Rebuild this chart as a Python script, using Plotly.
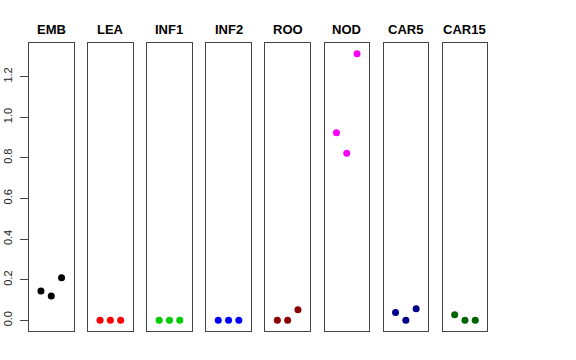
import plotly.graph_objects as go

panels = ["EMB", "LEA", "INF1", "INF2", "ROO", "NOD", "CAR5", "CAR15"]
colors = ["#000000", "#FF0000", "#00CD00", "#0000FF", "#8B0000", "#FF00FF", "#00008B", "#006400"]
x_pos = [1, 2, 3]
values = {
    "EMB":   [0.144, 0.120, 0.210],
    "LEA":   [0.0, 0.0, 0.0],
    "INF1":  [0.0, 0.0, 0.0],
    "INF2":  [0.0, 0.0, 0.0],
    "ROO":   [0.0, 0.0, 0.052],
    "NOD":   [0.924, 0.823, 1.313],
    "CAR5":  [0.039, 0.0, 0.057],
    "CAR15": [0.028, 0.0, 0.0],
}
y_ticks = [0.0, 0.2, 0.4, 0.6, 0.8, 1.0, 1.2]

W, H = 576, 360
fig = go.Figure()
layout = dict(
    width=W, height=H, margin=dict(l=0, r=0, t=0, b=0, autoexpand=False),
    paper_bgcolor="white", plot_bgcolor="white", showlegend=False,
    font=dict(family="Liberation Sans, Arial, sans-serif", color="black"),
)
annotations = []
ylo, yhi = (360 - 331) / H, (360 - 43) / H
ymin, ymax = -0.0525, 1.3655
for i, name in enumerate(panels):
    k = "" if i == 0 else str(i + 1)
    left = 29 + 59.1 * i
    right = left + 44.5
    fig.add_trace(go.Scatter(
        x=x_pos, y=values[name], mode="markers",
        marker=dict(color=colors[i], size=7, line=dict(width=0)),
        xaxis="x" + k, yaxis="y" + k, hoverinfo="skip",
    ))
    layout["xaxis" + k] = dict(
        domain=[left / W, right / W], range=[-0.16, 4.16],
        showgrid=False, zeroline=False, showticklabels=False, ticks="",
        showline=True, linecolor="#444", linewidth=1, mirror=True,
        anchor="y" + k, fixedrange=True, automargin=False,
    )
    ya = dict(
        domain=[ylo, yhi], range=[ymin, ymax],
        showgrid=False, zeroline=False,
        showline=True, linecolor="#444", linewidth=1, mirror=True,
        anchor="x" + k, fixedrange=True, automargin=False,
    )
    if i == 0:
        ya.update(tickvals=y_ticks, ticktext=[f"{v:.1f}" for v in y_ticks],
                  ticks="outside", ticklen=8, tickcolor="#444", tickangle=-90,
                  ticklabelstandoff=4,
                  tickfont=dict(size=11, color="#222"))
    else:
        ya.update(showticklabels=False, ticks="")
    layout["yaxis" + k] = ya
    annotations.append(dict(
        text="<b>" + name + "</b>", x=(left + right) / 2 / W, y=(360 - 29) / H,
        xref="paper", yref="paper", showarrow=False,
        xanchor="center", yanchor="middle", font=dict(size=13, color="black"),
    ))
layout["annotations"] = annotations
fig.update_layout(**layout)
fig.write_html("out.html", config={"displayModeBar": False},
               post_script="document.body.style.margin='0';document.body.style.overflow='hidden';")
